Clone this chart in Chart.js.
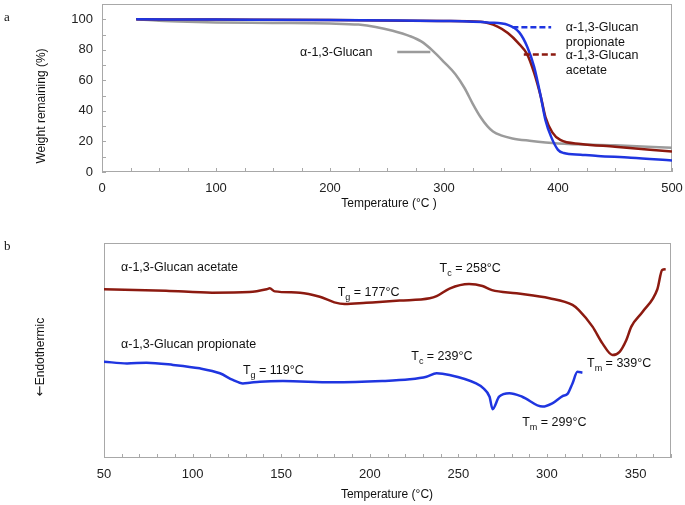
<!DOCTYPE html>
<html>
<head>
<meta charset="utf-8">
<script src="https://cdn.jsdelivr.net/npm/chart.js@4.4.1/dist/chart.umd.min.js"></script>
<style>
  body { margin: 0; background: #fff; }
  #wrap { position: relative; width: 685px; height: 505px; }
  canvas { position: absolute; left: 0; }
  #tga { top: 0; }
  #dsc { top: 215px; }
</style>
</head>
<body>
<div id="wrap">
  <canvas id="tga" width="685" height="215"></canvas>
  <canvas id="dsc" width="685" height="290"></canvas>
</div>
<script>
const FONT = '"Liberation Sans", Arial, Helvetica, sans-serif';
const SERIF = '"Liberation Serif", "Times New Roman", serif';

// ---- panel a : TGA (temperature °C -> weight remaining %) ----
const glucanT = [30, 50, 75, 100, 150, 200, 225, 240, 255, 270, 280, 290, 300, 310, 318, 325, 332, 338, 343, 350, 360, 375, 400, 450, 500];
const glucanW = [100, 99, 98.3, 97.9, 97.6, 97.2, 96.5, 95, 92.5, 89, 85.5, 79.5, 72, 64, 55, 45, 36, 30, 26.5, 24, 22, 20.5, 18.7, 17.5, 15.8];

const propT = [30, 100, 200, 300, 340, 356, 366, 373, 379, 385, 389, 394, 400, 405, 420, 435, 464, 500];
const propW = [100, 99.8, 99.5, 98.9, 97.8, 96.3, 91.4, 82, 69, 49, 34, 23, 14.5, 12.4, 11.3, 10.5, 9.4, 7.5];

const acetT = [30, 100, 200, 300, 332, 347, 356, 365, 373, 379, 385, 389, 395, 402, 420, 450, 500];
const acetW = [100, 99.8, 99.5, 98.9, 98.3, 95.2, 91, 84.6, 77, 65, 49, 36, 26, 21, 18.4, 16.6, 13.4];

// ---- panel b : DSC (temperature °C -> heat flow, arbitrary units) ----
const dscAcetT = [50, 85, 111, 132, 141.8, 143.5, 146.4, 160.6, 171.8, 180, 185.8, 198, 216.9, 233.8, 237.7, 245, 256, 263.6, 269, 282.8, 301.4, 314.4, 318, 325.7, 331.3, 337, 341, 344.8, 347.6, 354, 362.3, 365, 367];
const dscAcetV = [78.5, 77.8, 76.9, 77.2, 78.5, 78.9, 77.5, 76.9, 75.0, 72.4, 71.6, 72.2, 73.2, 74.3, 75.3, 78.8, 80.9, 80.0, 78.1, 76.6, 74.3, 71.2, 68.8, 61.1, 53.3, 47.9, 49.4, 54.9, 61.1, 68.0, 78.5, 87.4, 87.8];

const dscPropT = [50, 63, 74, 89, 104, 115.4, 122.7, 128.4, 132.3, 138, 151, 179, 207, 222.5, 232, 237.7, 245, 260, 264, 267.6, 269.3, 273, 278.8, 286, 297.5, 303, 308.8, 311.6, 314.4, 317.2, 320];
const dscPropV = [44.8, 44.0, 44.3, 43.3, 41.7, 39.4, 36.3, 34.7, 35.0, 35.5, 35.8, 35.2, 35.8, 36.6, 37.8, 39.4, 38.6, 34.7, 32.5, 28.5, 22.7, 28.5, 30.1, 28.5, 23.9, 25.4, 28.8, 29.8, 34.7, 40.1, 39.7];

// transition labels on the DSC plot: [main, subscript, rest, temperature, level]
const dscNotes = [
  ['T', 'g', ' = 177°C', 181.9, 77.0],
  ['T', 'c', ' = 258°C', 239.4, 87.9],
  ['T', 'g', ' = 119°C', 128.4, 40.6],
  ['T', 'c', ' = 239°C', 223.4, 47.1],
  ['T', 'm', ' = 339°C', 322.6, 44.0],
  ['T', 'm', ' = 299°C', 286.0, 16.4]
];

const pts = (xs, ys) => xs.map((x, i) => ({ x: x, y: ys[i] }));

function textSub(ctx, x, y, main, sub, rest, size) {
  ctx.textAlign = 'left';
  ctx.textBaseline = 'middle';
  ctx.font = size + 'px ' + FONT;
  ctx.fillText(main, x, y);
  let w = ctx.measureText(main).width;
  if (sub) {
    ctx.font = Math.round(size * 0.72) + 'px ' + FONT;
    ctx.fillText(sub, x + w, y + size * 0.38);
    w += ctx.measureText(sub).width;
    ctx.font = size + 'px ' + FONT;
  }
  if (rest) ctx.fillText(rest, x + w, y);
}

// grey box round the plot area plus short inward tick marks
const frame = {
  id: 'frame',
  beforeDatasetsDraw(chart) {
    const { ctx, chartArea: a, scales } = chart;
    ctx.save();
    ctx.strokeStyle = '#a8a8a8';
    ctx.lineWidth = 1;
    ctx.strokeRect(a.left + 0.5, a.top + 0.5, a.right - a.left - 1, a.bottom - a.top - 1);
    ctx.beginPath();
    scales.x.ticks.forEach(t => {
      const px = Math.round(scales.x.getPixelForValue(t.value)) + 0.5;
      ctx.moveTo(px, a.bottom);
      ctx.lineTo(px, a.bottom - 4);
    });
    if (scales.y.options.ticks.display) {
      scales.y.ticks.forEach(t => {
        const py = Math.round(scales.y.getPixelForValue(t.value)) + 0.5;
        ctx.moveTo(a.left, py);
        ctx.lineTo(a.left + 4, py);
      });
    }
    ctx.stroke();
    ctx.restore();
  }
};

function noPad(s) {
  s.paddingTop = 0; s.paddingBottom = 0; s.paddingLeft = 0; s.paddingRight = 0;
}

const tickFont = { size: 13, family: FONT };

// ---------- chart a ----------
// first dataset is painted last, so propionate (blue) sits on top
new Chart(document.getElementById('tga'), {
  type: 'line',
  data: {
    datasets: [
      { label: 'α-1,3-Glucan propionate', data: pts(propT, propW), borderColor: '#1f35e0', borderWidth: 2.5 },
      { label: 'α-1,3-Glucan acetate', data: pts(acetT, acetW), borderColor: '#8c1a10', borderWidth: 2.5 },
      { label: 'α-1,3-Glucan', data: pts(glucanT, glucanW), borderColor: '#9b9b9b', borderWidth: 2.5 }
    ]
  },
  options: {
    responsive: false,
    animation: false,
    layout: { padding: { top: 4, right: 13, left: 0, bottom: 0 } },
    elements: { point: { radius: 0 }, line: { cubicInterpolationMode: 'monotone' } },
    plugins: { legend: { display: false }, tooltip: { enabled: false } },
    scales: {
      x: {
        type: 'linear', min: 0, max: 500,
        grid: { display: false, drawTicks: false }, border: { display: false },
        ticks: { stepSize: 25, autoSkip: false, maxRotation: 0, padding: 9, color: '#222', font: tickFont,
                 callback: v => (v % 100 === 0 ? v : '') },
        afterFit: s => { s.height = 43; noPad(s); }
      },
      y: {
        min: 0, max: 110,
        grid: { display: false, drawTicks: false }, border: { display: false },
        ticks: { stepSize: 10, autoSkip: false, padding: 9, color: '#222', font: tickFont,
                 callback: v => (v % 20 === 0 && v <= 100 ? v : '') },
        afterFit: s => { s.width = 102; noPad(s); }
      }
    }
  },
  plugins: [frame, {
    id: 'notesA',
    afterDraw(chart) {
      const { ctx, scales: { x, y } } = chart;
      ctx.save();
      // key lines
      ctx.lineWidth = 2.5;
      ctx.strokeStyle = '#9b9b9b';
      ctx.beginPath();
      ctx.moveTo(x.getPixelForValue(259), y.getPixelForValue(78.5));
      ctx.lineTo(x.getPixelForValue(288), y.getPixelForValue(78.5));
      ctx.stroke();
      ctx.setLineDash([6, 3]);
      ctx.strokeStyle = '#1f35e0';
      ctx.beginPath();
      ctx.moveTo(x.getPixelForValue(360), y.getPixelForValue(94.7));
      ctx.lineTo(x.getPixelForValue(394), y.getPixelForValue(94.7));
      ctx.stroke();
      ctx.strokeStyle = '#8c1a10';
      ctx.beginPath();
      ctx.moveTo(x.getPixelForValue(370), y.getPixelForValue(77));
      ctx.lineTo(x.getPixelForValue(398), y.getPixelForValue(77));
      ctx.stroke();
      ctx.setLineDash([]);

      ctx.fillStyle = '#111';
      ctx.font = '12.5px ' + FONT;
      ctx.textBaseline = 'middle';
      ctx.textAlign = 'right';
      ctx.fillText('α-1,3-Glucan', x.getPixelForValue(237.3), y.getPixelForValue(78.5));
      ctx.textAlign = 'left';
      const lx = x.getPixelForValue(406.9);
      ctx.fillText('α-1,3-Glucan', lx, y.getPixelForValue(94.7));
      ctx.fillText('propionate', lx, y.getPixelForValue(84.9));
      ctx.fillText('α-1,3-Glucan', lx, y.getPixelForValue(76.5));
      ctx.fillText('acetate', lx, y.getPixelForValue(66.4));

      // axis titles and panel letter
      ctx.font = '12px ' + FONT;
      ctx.textAlign = 'center';
      ctx.fillText('Temperature (°C )', 389, 204);
      ctx.save();
      ctx.translate(42, 106);
      ctx.rotate(-Math.PI / 2);
      ctx.fillText('Weight remaining (%)', 0, 0);
      ctx.restore();
      ctx.textAlign = 'left';
      ctx.font = '13px ' + SERIF;
      ctx.fillText('a', 4, 18);
      ctx.restore();
    }
  }]
});

// ---------- chart b ----------
new Chart(document.getElementById('dsc'), {
  type: 'line',
  data: {
    datasets: [
      { label: 'α-1,3-Glucan acetate', data: pts(dscAcetT, dscAcetV), borderColor: '#8c1a10', borderWidth: 2.5 },
      { label: 'α-1,3-Glucan propionate', data: pts(dscPropT, dscPropV), borderColor: '#1f35e0', borderWidth: 2.5 }
    ]
  },
  options: {
    responsive: false,
    animation: false,
    layout: { padding: { top: 28, right: 14, left: 0, bottom: 0 } },
    elements: { point: { radius: 0 }, line: { cubicInterpolationMode: 'monotone' } },
    plugins: { legend: { display: false }, tooltip: { enabled: false } },
    scales: {
      x: {
        type: 'linear', min: 50, max: 370,
        grid: { display: false, drawTicks: false }, border: { display: false },
        ticks: { stepSize: 10, autoSkip: false, maxRotation: 0, padding: 9, color: '#222', font: tickFont,
                 callback: v => (v % 50 === 0 ? v : '') },
        afterFit: s => { s.height = 47; noPad(s); }
      },
      y: {
        min: 0, max: 100,
        grid: { display: false, drawTicks: false }, border: { display: false },
        ticks: { display: false },
        afterFit: s => { s.width = 104; noPad(s); }
      }
    }
  },
  plugins: [frame, {
    id: 'notesB',
    afterDraw(chart) {
      const { ctx, scales: { x, y } } = chart;
      ctx.save();
      ctx.fillStyle = '#111';
      ctx.font = '12.5px ' + FONT;
      ctx.textBaseline = 'middle';
      ctx.textAlign = 'left';
      ctx.fillText('α-1,3-Glucan acetate', x.getPixelForValue(59.6), y.getPixelForValue(88.8));
      ctx.fillText('α-1,3-Glucan propionate', x.getPixelForValue(59.6), y.getPixelForValue(52.6));
      dscNotes.forEach(n => {
        textSub(ctx, x.getPixelForValue(n[3]), y.getPixelForValue(n[4]), n[0], n[1], n[2], 12.5);
      });

      ctx.textAlign = 'center';
      ctx.font = '12px ' + FONT;
      ctx.fillText('Temperature (°C)', 387, 280);

      // rotated y title: arrow (DejaVu has a full-size arrow glyph) then the word
      ctx.save();
      ctx.translate(41, 142);
      ctx.rotate(-Math.PI / 2);
      ctx.font = '13px "DejaVu Sans", sans-serif';
      const aw = ctx.measureText('←').width;
      ctx.font = '12px ' + FONT;
      const tw = ctx.measureText('Endothermic').width;
      const x0 = -(aw + tw) / 2;
      ctx.textAlign = 'left';
      ctx.font = '13px "DejaVu Sans", sans-serif';
      ctx.fillText('←', x0, 0);
      ctx.font = '12px ' + FONT;
      ctx.fillText('Endothermic', x0 + aw, 0);
      ctx.restore();

      ctx.textAlign = 'left';
      ctx.font = '13px ' + SERIF;
      ctx.fillText('b', 4, 32);
      ctx.restore();
    }
  }]
});
</script>
</body>
</html>
